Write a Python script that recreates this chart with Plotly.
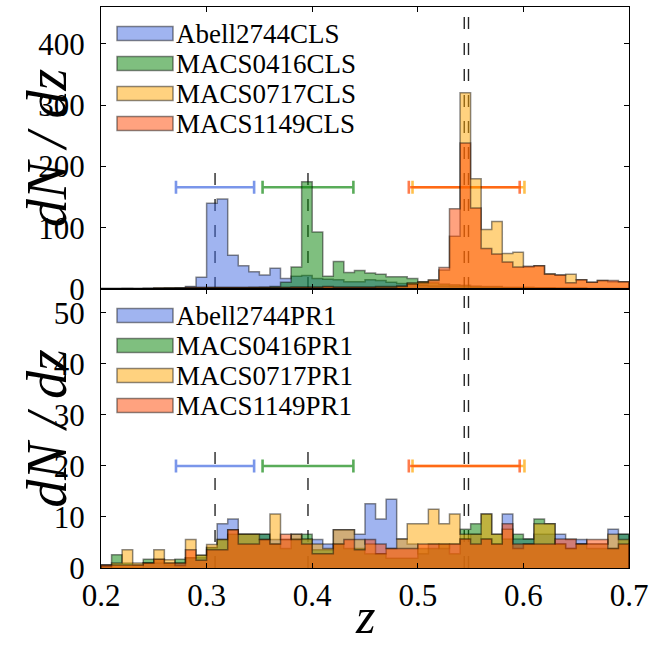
import plotly.graph_objects as go

# ---------------- data ----------------
z_edges = [round(0.20 + 0.01 * i, 2) for i in range(51)]

names_cls = ["Abell2744CLS", "MACS0416CLS", "MACS0717CLS", "MACS1149CLS"]
names_pr1 = ["Abell2744PR1", "MACS0416PR1", "MACS0717PR1", "MACS1149PR1"]

abell2744_cls = [1, 1, 1, 0.5, 1, 1, 1.5, 2, 4, 19,
                 140, 147, 55, 38, 28, 23, 34, 17, 21, 22,
                 17, 16, 15, 12, 12, 15, 14, 11, 9, 8,
                 6, 5, 5, 4, 4, 3, 3, 3, 2, 2,
                 2, 2, 2, 1, 1, 1, 1, 1, 1, 1]
macs0416_cls = [0.5, 0.5, 0.5, 0.5, 1, 1, 1, 1, 1, 1.5,
                2, 2, 2, 2, 2.5, 3, 4, 11, 36, 175,
                93, 21, 45, 27, 30, 26, 24, 20, 20, 17,
                12, 10, 8, 7, 6, 5, 4, 4, 3, 3,
                3, 2, 2, 2, 2, 2, 1, 1, 1, 1]
macs0717_cls = [1, 1, 1, 1, 1, 2, 2, 2, 3, 3,
                3, 3, 3, 3, 3, 3, 3, 3, 3, 3,
                3, 3, 3, 3, 3, 3, 4, 4, 5, 10,
                12, 15, 31, 86, 320, 180, 97, 110, 58, 60,
                36, 38, 25, 23, 24, 15, 11, 14, 12, 12]
macs1149_cls = [0.5, 0.5, 1, 1, 1, 1, 1, 1, 2, 2,
                2, 2, 2, 2, 2, 2, 2, 2, 3, 3,
                3, 4, 3, 3, 3, 3, 3, 3, 4, 8,
                10, 14, 35, 131, 238, 132, 66, 57, 44, 36,
                37, 38, 24, 23, 10, 15, 11, 14, 14, 12]

abell2744_pr1 = [0.6, 0, 0, 0, 1, 1, 0.6, 1, 2, 2,
                 4, 8.7, 9.6, 6.6, 6.6, 6.6, 5.6, 5.6, 6.6, 5.6,
                 5.6, 4.7, 7.5, 7.5, 6.6, 12.6, 9.6, 13.5, 5.7, 4.7,
                 2.8, 4.7, 3.8, 4.7, 5.7, 6.6, 5.7, 4.7, 10.6, 5.7,
                 5.7, 6.6, 6.6, 6.6, 5.6, 5.6, 4.7, 4.7, 7.6, 6.6]
macs0416_pr1 = [0.6, 2.6, 1, 0.6, 1.7, 1.7, 1, 1.7, 2, 2.5,
                4, 5.6, 6.6, 6.6, 6.6, 6.6, 4.7, 3.8, 5.7, 6.6,
                3.6, 3.6, 4.7, 3.8, 3.8, 2.8, 2.8, 1.9, 1.9, 1.9,
                3.8, 3.8, 4.7, 2.8, 7.6, 8.7, 10.6, 6.6, 5.7, 6.6,
                5.7, 9.6, 8.7, 4.7, 3.8, 4.7, 3.8, 3.8, 3.8, 6.6]
macs0717_pr1 = [0.3, 1, 3.6, 1, 1, 3.6, 1.6, 0.5, 5.6, 2.5,
                4.6, 5.6, 7.5, 6.6, 6.6, 5.6, 10.6, 5.6, 6.6, 5.7,
                4.7, 3.8, 7.5, 7.5, 5.6, 4.7, 2.8, 3.8, 5.7, 8.7,
                8.7, 11.5, 8.7, 10.6, 6.6, 6.6, 10.6, 6.6, 7.6, 3.8,
                4.7, 8.7, 8.7, 4.7, 3.8, 4.7, 4.7, 4.7, 6.6, 5.6]
macs1149_pr1 = [0.6, 0.6, 0.6, 0.6, 1, 1.7, 1, 1, 3.6, 1.5,
                3.6, 3.6, 7.5, 4.7, 4.7, 5.6, 4.7, 6.6, 5.6, 4.7,
                2.8, 2.8, 4.7, 5.6, 3.6, 5.6, 4.7, 3.8, 3.8, 3.8,
                4.7, 4.7, 4.7, 4.7, 5.7, 4.7, 5.7, 4.7, 8.7, 4.7,
                4.7, 4.7, 4.7, 5.7, 5.7, 4.7, 5.6, 5.6, 3.8, 4.7]

cluster_z = [0.308, 0.396, 0.548, 0.544]
cluster_dz = [0.037, 0.043, 0.053, 0.0525]
errbar_y_cls = 166
errbar_y_pr1 = 20
zline_top_cls = [203, 203, 460, 460]
zline_top_pr1 = [23.7, 23.7, 54.7, 54.7]

yticks_cls = [0, 100, 200, 300, 400]
yticks_pr1 = [0, 10, 20, 30, 40, 50]
xticks = [0.2, 0.3, 0.4, 0.5, 0.6, 0.7]
ytitle = "dN / dz"
xtitle = "z"

# ---------------- styles ----------------
fill_colors = ["rgba(65,105,225,0.5)", "rgba(0,128,0,0.5)",
               "rgba(255,165,0,0.5)", "rgba(255,69,0,0.5)"]
bar_colors = ["rgba(65,105,225,0.7)", "rgba(0,128,0,0.65)",
              "rgba(255,165,0,0.7)", "rgba(255,69,0,0.7)"]
edge_color = "rgba(0,0,0,0.45)"
FONT = "Liberation Serif, Times New Roman, serif"

W, H = 650, 654
ML, MR, MT, MB = 101, 21, 7, 86
PW = W - ML - MR
PH = H - MT - MB
split = (568 - 289) / PH

fig = go.Figure()

panels = [
    ("x", "y", [abell2744_cls, macs0416_cls, macs0717_cls, macs1149_cls], names_cls,
     errbar_y_cls, zline_top_cls),
    ("x2", "y2", [abell2744_pr1, macs0416_pr1, macs0717_pr1, macs1149_pr1], names_pr1,
     errbar_y_pr1, zline_top_pr1),
]

for xa, ya, series, names, ey, ztops in panels:
    for zc, zt in zip(cluster_z, ztops):
        fig.add_trace(go.Scatter(x=[zc, zc], y=[0, zt], xaxis=xa, yaxis=ya, mode="lines",
                                 line=dict(color="rgba(0,0,0,0.85)", width=1.4, dash="12px,14px"),
                                 showlegend=False, hoverinfo="skip"))
    for zc, dz, col in zip(cluster_z, cluster_dz, bar_colors):
        fig.add_trace(go.Scatter(x=[zc], y=[ey], xaxis=xa, yaxis=ya, mode="markers",
                                 marker=dict(size=1, opacity=0),
                                 error_x=dict(type="data", array=[dz], color=col,
                                              thickness=2.6, width=6.5),
                                 showlegend=False, hoverinfo="skip"))
    for vals, name, fc in zip(series, names, fill_colors):
        xs = [z_edges[0]] + z_edges + [z_edges[-1]]
        ys = [0] + list(vals) + [vals[-1], 0]
        fig.add_trace(go.Scatter(x=xs, y=ys, xaxis=xa, yaxis=ya, mode="lines",
                                 line=dict(shape="hv", color=edge_color, width=1.5),
                                 fill="tozeroy", fillcolor=fc, name=name,
                                 showlegend=False))

# manual legends (rectangle patches + text)
panel_h = [289 - MT, 568 - 289]
for (xa, ya, series, names, ey, ztops), ph, yref in zip(panels, panel_h, ["y domain", "y2 domain"]):
    for i, (name, fc) in enumerate(zip(names, fill_colors)):
        top = 19.5 + 30 * i
        bot = top + 14
        fig.add_shape(type="rect", xref="x domain", yref=yref,
                      x0=(117 - ML) / PW, x1=(173 - ML) / PW,
                      y0=1 - bot / ph, y1=1 - top / ph,
                      fillcolor=fc, line=dict(color="rgba(0,0,0,0.45)", width=1.5))
        fig.add_annotation(xref="x domain", yref=yref, x=(174 - ML) / PW,
                           y=1 - (top + 7) / ph, text=name, showarrow=False,
                           xanchor="left", yanchor="middle",
                           font=dict(family=FONT, size=27, color="black"))

# y-axis titles: rotated labels carried by invisible vertical guide lines
title_font = dict(family=FONT, size=56, color="black", style="italic")
for yref in ["y domain", "y2 domain"]:
    fig.add_shape(type="line", xref="paper", yref=yref,
                  x0=(41 - ML) / PW, x1=(41 - ML) / PW, y0=0, y1=1,
                  line=dict(color="rgba(0,0,0,0)", width=0),
                  label=dict(text=ytitle, textangle=-90, textposition="middle",
                             xanchor="center", yanchor="middle", padding=0,
                             font=title_font))
fig.add_annotation(xref="paper", yref="paper", x=0.5, y=0, yshift=-(616 - 568), text=xtitle,
                   showarrow=False, xanchor="center", yanchor="middle",
                   font=dict(family=FONT, size=50, color="black", style="italic"))

axis_common = dict(showline=True, linecolor="black", linewidth=1.3, mirror="ticks",
                   ticks="inside", ticklen=5, tickwidth=1.3, tickcolor="black",
                   showgrid=False, zeroline=False, automargin=False,
                   tickfont=dict(family=FONT, size=31, color="black"))

fig.update_layout(
    width=W, height=H,
    margin=dict(l=ML, r=MR, t=MT, b=MB, autoexpand=False),
    paper_bgcolor="white", plot_bgcolor="white",
    showlegend=False,
    xaxis=dict(domain=[0, 1], anchor="y", range=[0.2, 0.7], tickvals=xticks,
               showticklabels=False, matches="x2", **axis_common),
    yaxis=dict(domain=[split, 1], anchor="x", range=[0, 460], tickvals=yticks_cls,
               ticklabelstandoff=9, **axis_common),
    xaxis2=dict(domain=[0, 1], anchor="y2", range=[0.2, 0.7], tickvals=xticks,
                tickformat=".1f", ticklabelstandoff=0, **axis_common),
    yaxis2=dict(domain=[0, split], anchor="x2", range=[0, 54.7], tickvals=yticks_pr1,
                ticklabelstandoff=9, **axis_common),
)

fig.write_html("out.html")
